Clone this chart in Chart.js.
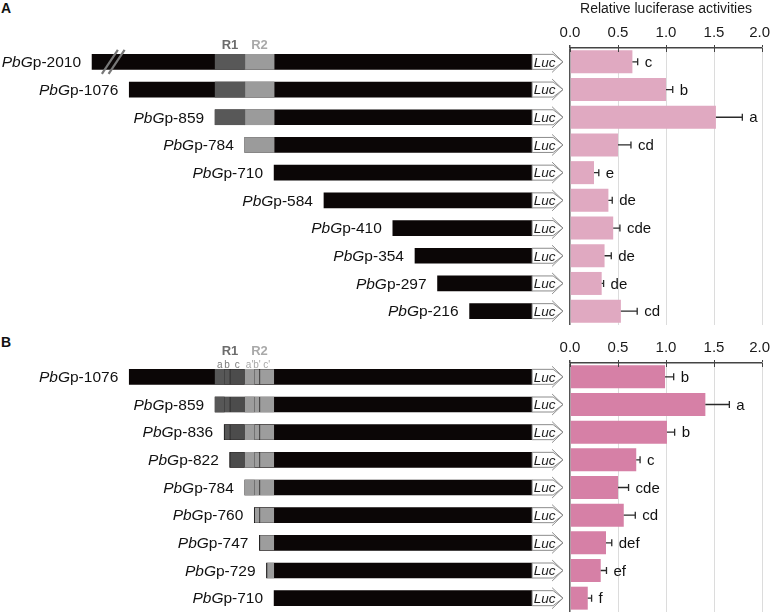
<!DOCTYPE html>
<html><head><meta charset="utf-8">
<script src="https://cdn.jsdelivr.net/npm/chart.js@4.4.1/dist/chart.umd.min.js"></script>
<style>
html,body{margin:0;padding:0;background:#fff;overflow:hidden;}
#wrap{position:relative;width:770px;height:613px;background:#fff;}
canvas{position:absolute;}
.pl{position:absolute;font:bold 14px 'Liberation Sans',Arial,Helvetica,sans-serif;color:#111;line-height:16px;}
</style></head><body>
<div id="wrap">
<div class="pl" style="left:1px;top:0px">A</div>
<div class="pl" style="left:1px;top:334px">B</div>
<canvas id="sA" width="570" height="330" style="left:0;top:0"></canvas>
<canvas id="bA" width="222" height="330" style="left:550px;top:0"></canvas>
<canvas id="sB" width="570" height="283" style="left:0;top:330px"></canvas>
<canvas id="bB" width="222" height="283" style="left:550px;top:330px"></canvas>
</div>
<script>
// ---------------- DATA ----------------
// Panel A: 5' deletion constructs (bp upstream)
const constructsA = [2010, 1076, 859, 784, 710, 584, 410, 354, 297, 216];
const activityA   = [0.65, 1.00, 1.52, 0.50, 0.25, 0.40, 0.45, 0.36, 0.33, 0.53];
const errorA      = [0.055, 0.07, 0.275, 0.135, 0.05, 0.04, 0.07, 0.07, 0.02, 0.17];
const lettersA    = ['c', 'b', 'a', 'cd', 'e', 'de', 'cde', 'de', 'de', 'cd'];

// Panel B: fine deletion constructs
const constructsB = [1076, 859, 836, 822, 784, 760, 747, 729, 710];
const activityB   = [0.99, 1.41, 1.01, 0.69, 0.50, 0.56, 0.375, 0.32, 0.185];
const errorB      = [0.09, 0.25, 0.08, 0.04, 0.11, 0.12, 0.06, 0.06, 0.04];
const lettersB    = ['b', 'a', 'b', 'c', 'cde', 'cd', 'def', 'ef', 'f'];

const activityTicks = [0, 0.5, 1.0, 1.5, 2.0];
const axisTitle = 'Relative luciferase activities';

// promoter regions (bp upstream)
const regionNamesA = ['R1', 'R2'];
const regionFromA  = [859, 784];
const regionToA    = [784, 710];

const subNamesB  = ['a', 'b', 'c', "a'", "b'", "c'"];
const subGroupB  = ['R1', 'R1', 'R1', 'R2', 'R2', 'R2'];
const subFromB   = [859, 836, 822, 784, 760, 747];
const subToB     = [836, 822, 784, 760, 747, 710];

const promoterEnd = 58;            // promoter fragment ends where Luc starts
const lucBodyEnd = -5, lucTip = -20;
const breakFrom = 1960, breakTo = 1120; // axis break on the -2010 construct

// ---------------- STYLE ----------------
const FONT = "'Liberation Sans', Arial, Helvetica, sans-serif";
const LS = 15.5;
const regionColor = {R1: '#585858', R2: '#9b9b9b'};
const subColor = {a: '#575757', b: '#575757', c: '#4c4c4c', "a'": '#9d9d9d', "b'": '#9d9d9d', "c'": '#9d9d9d'};
const labelColor = {R1: '#6c6c6c', R2: '#a9a9a9'};
const subLabelColor = {R1: '#7a7a7a', R2: '#a8a8a8'};

function disp(n) { return n > breakFrom ? -(n - (breakFrom - breakTo)) : -n; }

const schematicPlugin = {
  id: 'schematic',
  afterDatasetsDraw(chart, args, o) {
    const ctx = chart.ctx, xs = chart.scales.x, ys = chart.scales.y;
    const X = v => xs.getPixelForValue(v);
    ctx.save();
    o.constructs.forEach((n, i) => {
      const y = ys.getPixelForValue(i);
      // break marks
      if (n > breakFrom) {
        ctx.strokeStyle = '#777'; ctx.lineWidth = 2.2;
        [X(-breakTo - 5), X(-breakTo + 12)].forEach(c => {
          ctx.beginPath(); ctx.moveTo(c - 8, y + 12); ctx.lineTo(c + 8, y - 12); ctx.stroke();
        });
      }
      // Luc arrow
      const x0 = X(-promoterEnd), x1 = X(lucBodyEnd), x2 = X(-lucTip);
      const t = y - 7.5, b = y + 7.5;
      ctx.beginPath(); ctx.moveTo(x0, t); ctx.lineTo(x1, t); ctx.lineTo(x2, y); ctx.lineTo(x1, b); ctx.lineTo(x0, b); ctx.closePath();
      ctx.fillStyle = '#fff'; ctx.fill();
      ctx.strokeStyle = '#8c8c8c'; ctx.lineWidth = 1; ctx.stroke();
      ctx.beginPath(); ctx.moveTo(x1 - 1, t - 3); ctx.lineTo(x2, y); ctx.lineTo(x1 - 1, b + 3); ctx.stroke();
      ctx.fillStyle = '#1a1a1a'; ctx.font = `italic 13.5px ${FONT}`;
      ctx.textAlign = 'left'; ctx.textBaseline = 'middle';
      ctx.fillText('Luc', x0 + 1.5, y + 1);
      // construct label
      const xr = X(disp(n)) - 11;
      ctx.font = `italic ${LS}px ${FONT}`; const wa = ctx.measureText('PbG').width;
      ctx.font = `${LS}px ${FONT}`; const wb = ctx.measureText('p-' + n).width;
      ctx.fillStyle = '#111';
      ctx.font = `italic ${LS}px ${FONT}`; ctx.fillText('PbG', xr - wa - wb, y + 1);
      ctx.font = `${LS}px ${FONT}`; ctx.fillText('p-' + n, xr - wb, y + 1);
    });
    // region labels
    const y0 = ys.getPixelForValue(0);
    ctx.textAlign = 'center'; ctx.textBaseline = 'middle';
    o.regions.forEach(r => {
      ctx.font = `bold 13px ${FONT}`; ctx.fillStyle = labelColor[r.name];
      ctx.fillText(r.name, (X(-r.from) + X(-r.to)) / 2, y0 + o.rOffset);
    });
    if (o.subs) {
      ctx.font = `10px ${FONT}`;
      o.subs.forEach(s => {
        ctx.fillStyle = subLabelColor[s.group];
        ctx.fillText(s.name, (X(-s.from) + X(-s.to)) / 2, y0 - 12);
      });
    }
    ctx.restore();
  }
};

function schematic(id, constructs, segs, regionLabels, subs, topPad, botPad, rOffset) {
  const datasets = segs.map(s => ({
    label: s.name,
    data: constructs.map(n => n > s.to ? [-Math.min(n, s.from), -s.to] : null),
    backgroundColor: s.color,
    borderColor: '#262626',
    borderWidth: s.border ? {left: 1, top: 0, right: 0, bottom: 0} : 0,
    order: 0
  }));
  datasets.push({
    label: 'promoter',
    data: constructs.map(n => [disp(n), -promoterEnd]),
    backgroundColor: '#0b0606', borderWidth: 0, order: 10
  });
  new Chart(document.getElementById(id), {
    type: 'bar',
    data: {labels: constructs.map(n => 'PbGp-' + n), datasets},
    options: {
      responsive: false, animation: false, indexAxis: 'y', devicePixelRatio: 1,
      layout: {padding: {top: topPad, bottom: botPad, left: 5, right: 7}},
      datasets: {bar: {grouped: false, barThickness: 15, borderSkipped: false}},
      scales: {x: {display: false, min: -1390, max: 20}, y: {display: false}},
      plugins: {legend: {display: false}, tooltip: {enabled: false},
        schematic: {constructs, regions: regionLabels, subs, rOffset}}
    },
    plugins: [schematicPlugin]
  });
}

const errPlugin = {
  id: 'errLetters',
  afterDatasetsDraw(chart, args, o) {
    const ctx = chart.ctx, xs = chart.scales.x, area = chart.chartArea;
    const vals = chart.data.datasets[0].data;
    ctx.save();
    ctx.strokeStyle = '#444'; ctx.lineWidth = 1;
    activityTicks.forEach(v => {
      const x = Math.round(xs.getPixelForValue(v)) + 0.5;
      ctx.beginPath(); ctx.moveTo(x, area.top); ctx.lineTo(x, area.top + 4); ctx.stroke();
    });
    chart.getDatasetMeta(0).data.forEach((bar, i) => {
      const y = bar.y, x0 = bar.x, x1 = xs.getPixelForValue(vals[i] + o.errors[i]);
      ctx.strokeStyle = '#2a2a2a'; ctx.lineWidth = 1.3;
      ctx.beginPath(); ctx.moveTo(x0, y); ctx.lineTo(x1, y);
      ctx.moveTo(x1, y - 3.5); ctx.lineTo(x1, y + 3.5); ctx.stroke();
      ctx.fillStyle = '#111'; ctx.font = `15px ${FONT}`;
      ctx.textAlign = 'left'; ctx.textBaseline = 'middle';
      ctx.fillText(o.letters[i], x1 + 7, y + 1);
    });
    // last tick label, kept inside the page edge
    const last = activityTicks[activityTicks.length - 1];
    ctx.fillStyle = '#1a1a1a'; ctx.font = `15px ${FONT}`;
    ctx.textAlign = 'right'; ctx.textBaseline = 'middle';
    ctx.fillText(last.toFixed(1), chart.width - 2, xs.bottom - 3 - 3 - 9);
    ctx.restore();
  }
};

function bars(id, constructs, values, errors, letters, color, title, axisH, botPad) {
  new Chart(document.getElementById(id), {
    type: 'bar',
    data: {labels: constructs.map(n => 'PbGp-' + n),
      datasets: [{data: values, backgroundColor: color, barPercentage: 0.83, categoryPercentage: 1}]},
    options: {
      responsive: false, animation: false, indexAxis: 'y', devicePixelRatio: 1,
      layout: {padding: {top: 0, bottom: botPad, left: 0, right: 10}},
      scales: {
        x: {
          position: 'top', min: 0, max: 2,
          afterBuildTicks: s => { s.ticks = activityTicks.map(v => ({value: v})); },
          ticks: {font: {family: FONT, size: 15}, color: '#1a1a1a', padding: 3, maxRotation: 0,
            callback: (v, i, t) => i === t.length - 1 ? '' : Number(v).toFixed(1)},
          grid: {color: c => (c.tick && c.tick.value === 0) ? '#555' : '#dcdcdc',
            lineWidth: c => (c.tick && c.tick.value === 0) ? 1.5 : 1,
            tickLength: 3, tickColor: '#444', drawTicks: true},
          border: {display: true, color: '#444', width: 1.5},
          title: {display: !!title, text: title || '', font: {family: FONT, size: 14}, color: '#1a1a1a',
            padding: {top: 1, bottom: 0}},
          afterFit: s => { s.height = axisH; s.paddingLeft = 0; s.paddingRight = 0; }
        },
        y: {display: true, ticks: {display: false}, grid: {display: false, drawTicks: false},
          border: {display: false}, afterFit: s => { s.width = 20; s.paddingTop = 0; s.paddingBottom = 0; }}
      },
      plugins: {legend: {display: false}, tooltip: {enabled: false},
        errLetters: {errors, letters}}
    },
    plugins: [errPlugin]
  });
}

// Panel A
const segsA = regionNamesA.map((nm, i) => ({name: nm, from: regionFromA[i], to: regionToA[i], color: regionColor[nm], border: false}));
schematic('sA', constructsA, segsA, segsA, null, 48, 5, -16.5);
bars('bA', constructsA, activityA, errorA, lettersA, '#e0a9c1', axisTitle, 48, 5);

// Panel B
const segsB = subNamesB.map((nm, i) => ({name: nm, group: subGroupB[i], from: subFromB[i], to: subToB[i],
  color: subColor[nm], border: (nm !== 'a' && nm !== "a'")}));
const regLabelsB = regionNamesA.map((nm, i) => ({name: nm, from: regionFromA[i], to: regionToA[i]}));
schematic('sB', constructsB, segsB, regLabelsB, segsB, 33, 1, -25);
bars('bB', constructsB, activityB, errorB, lettersB, '#d680a6', null, 33, 1);
</script>
</body></html>
